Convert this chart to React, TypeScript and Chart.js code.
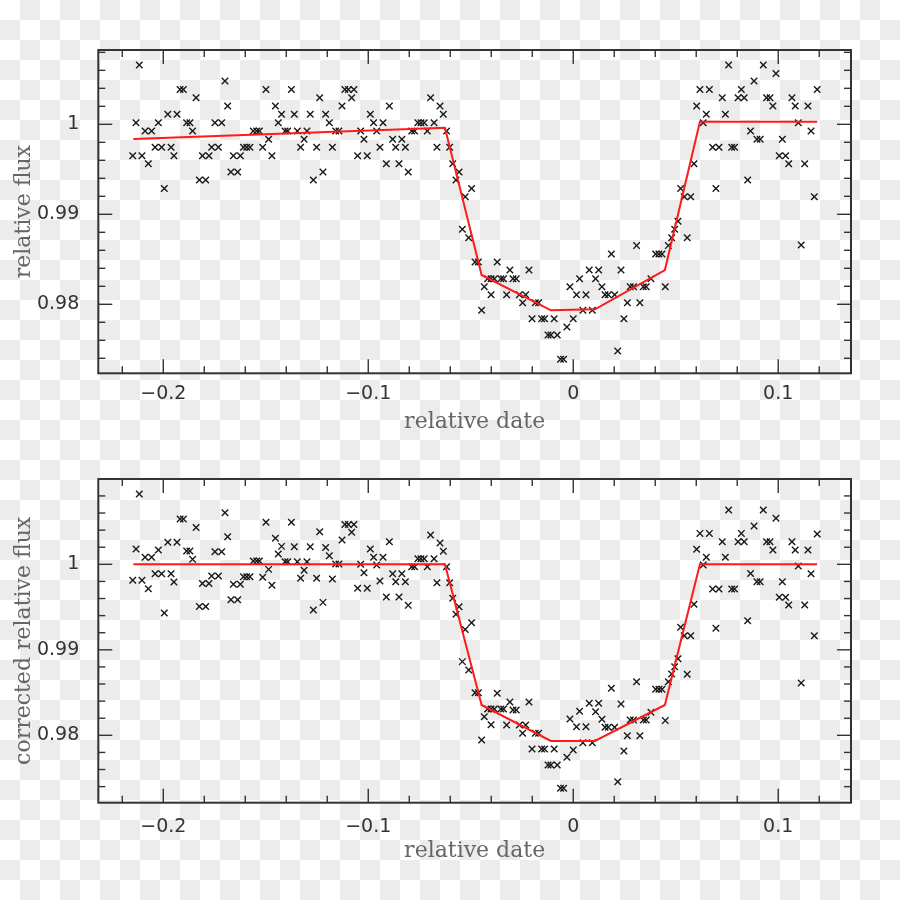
import React, { useEffect, useRef } from 'react';
import { Chart, registerables } from 'chart.js';

Chart.register(...registerables);

// ---------- data ----------
const dates = [
  -0.2149, -0.2133, -0.2117, -0.2104, -0.2089, -0.2073, -0.2057, -0.2040, -0.2024, -0.2008,
  -0.1995, -0.1978, -0.1962, -0.1948, -0.1933, -0.1918, -0.1902, -0.1886, -0.1870, -0.1857,
  -0.1840, -0.1824, -0.1809, -0.1793, -0.1777, -0.1764, -0.1748, -0.1731, -0.1715, -0.1699,
  -0.1686, -0.1670, -0.1658, -0.1637, -0.1624, -0.1609, -0.1593, -0.1577, -0.1561, -0.1544,
  -0.1531, -0.1515, -0.1499, -0.1486, -0.1470, -0.1453, -0.1439, -0.1423, -0.1406, -0.1393,
  -0.1375, -0.1361, -0.1346, -0.1330, -0.1313, -0.1299, -0.1283, -0.1268, -0.1252, -0.1237,
  -0.1221, -0.1208, -0.1190, -0.1175, -0.1159, -0.1143, -0.1128, -0.1114, -0.1097, -0.1081,
  -0.1070, -0.1052, -0.1037, -0.1021, -0.1005, -0.0990, -0.0974, -0.0959, -0.0943, -0.0928,
  -0.0912, -0.0897, -0.0881, -0.0866, -0.0850, -0.0836, -0.0819, -0.0805, -0.0788, -0.0774,
  -0.0758, -0.0743, -0.0727, -0.0712, -0.0696, -0.0679, -0.0665, -0.0650, -0.0634, -0.0618,
  -0.0603, -0.0588, -0.0572, -0.0557, -0.0541, -0.0527, -0.0510, -0.0496, -0.0479, -0.0463,
  -0.0447, -0.0434, -0.0418, -0.0401, -0.0401, -0.0385, -0.0371, -0.0353, -0.0340, -0.0325,
  -0.0309, -0.0294, -0.0278, -0.0263, -0.0247, -0.0232, -0.0216, -0.0201, -0.0185, -0.0169,
  -0.0154, -0.0140, -0.0123, -0.0109, -0.0093, -0.0078, -0.0062, -0.0047, -0.0031, -0.0016,
  0.0000, 0.0016, 0.0031, 0.0047, 0.0062, 0.0078, 0.0093, 0.0109, 0.0124, 0.0140,
  0.0155, 0.0171, 0.0186, 0.0202, 0.0217, 0.0233, 0.0247, 0.0264, 0.0278, 0.0294,
  0.0309, 0.0325, 0.0342, 0.0356, 0.0379, 0.0402, 0.0418, 0.0433, 0.0449, 0.0464,
  0.0480, 0.0495, 0.0511, 0.0524, 0.0542, 0.0556, 0.0573, 0.0589, 0.0602, 0.0618,
  0.0634, 0.0649, 0.0664, 0.0680, 0.0696, 0.0711, 0.0727, 0.0742, 0.0758, 0.0773,
  0.0787, 0.0804, 0.0820, 0.0834, 0.0851, 0.0865, 0.0882, 0.0896, 0.0912, 0.0927,
  0.0943, 0.0960, 0.0974, 0.0989, 0.1005, 0.1020, 0.1036, 0.1051, 0.1067, 0.1083,
  0.1098, 0.1112, 0.1129, 0.1145, 0.1160, 0.1176, 0.1190,
];

const rawFlux = [
  0.99651, 1.00018, 1.00659, 0.99651, 0.99925, 0.99562, 0.99925, 0.99744, 1.00018, 0.99744,
  0.99288, 1.00111, 0.99744, 0.99651, 1.00111, 1.00388, 1.00388, 1.00018, 1.00018, 0.99925,
  1.00296, 0.99381, 0.99651, 0.99381, 0.99651, 0.99744, 1.00018, 0.99744, 1.00018, 1.00481,
  1.00203, 0.99470, 0.99651, 0.99470, 0.99651, 0.99744, 0.99744, 0.99744, 0.99925, 0.99925,
  0.99925, 0.99744, 1.00388, 0.99833, 0.99651, 1.00203, 1.00018, 1.00111, 0.99925, 0.99925,
  1.00388, 1.00111, 0.99925, 0.99744, 0.99833, 0.99925, 1.00111, 0.99381, 0.99744, 1.00296,
  0.99470, 1.00111, 1.00018, 0.99744, 0.99925, 0.99925, 1.00203, 1.00388, 1.00388, 1.00296,
  1.00388, 0.99651, 0.99925, 0.99833, 0.99651, 1.00111, 1.00018, 0.99925, 0.99744, 1.00018,
  0.99562, 1.00203, 0.99833, 0.99744, 0.99562, 0.99833, 0.99744, 0.99470, 0.99925, 0.99925,
  1.00018, 1.00018, 1.00018, 0.99925, 1.00296, 1.00018, 0.99744, 1.00203, 1.00111, 0.99925,
  0.99744, 0.99562, 0.99381, 0.99470, 0.98833, 0.99196, 0.98740, 0.99288, 0.98470, 0.98470,
  0.97933, 0.98196, 0.98285, 0.98285, 0.98107, 0.98285, 0.98470, 0.98285, 0.98285, 0.98107,
  0.98381, 0.98285, 0.98285, 0.98107, 0.98018, 0.98107, 0.98381, 0.97840, 0.98018, 0.98018,
  0.97840, 0.97840, 0.97659, 0.97659, 0.97840, 0.97659, 0.97389, 0.97389, 0.97748, 0.98196,
  0.97840, 0.98107, 0.98285, 0.97933, 0.98107, 0.98381, 0.97933, 0.98285, 0.98381, 0.98196,
  0.98107, 0.98107, 0.98559, 0.98107, 0.97481, 0.98381, 0.97840, 0.98018, 0.98196, 0.98196,
  0.98652, 0.98018, 0.98196, 0.98196, 0.98285, 0.98559, 0.98559, 0.98559, 0.98196, 0.98652,
  0.98740, 0.98833, 0.98922, 0.99288, 0.99196, 0.98740, 0.99196, 0.99562, 1.00203, 1.00388,
  1.00018, 1.00111, 1.00388, 0.99744, 0.99288, 0.99744, 1.00296, 1.00111, 1.00659, 0.99744,
  0.99744, 1.00296, 1.00388, 1.00296, 0.99381, 0.99925, 1.00481, 0.99833, 0.99833, 1.00659,
  1.00296, 1.00296, 1.00203, 1.00566, 0.99651, 0.99833, 0.99651, 0.99562, 1.00296, 1.00203,
  1.00018, 0.98659, 0.99562, 1.00203, 0.99925, 0.99196, 1.00388,
];

const correctedFlux = [
  0.99813, 1.00179, 1.00822, 0.99813, 1.00082, 0.99715, 1.00082, 0.99891, 1.00167, 0.99891,
  0.99431, 1.00257, 0.99891, 0.99793, 1.00257, 1.00530, 1.00530, 1.00156, 1.00156, 1.00058,
  1.00432, 0.99508, 0.99777, 0.99508, 0.99777, 0.99863, 1.00148, 0.99863, 1.00148, 1.00604,
  1.00323, 0.99587, 0.99766, 0.99587, 0.99766, 0.99855, 0.99855, 0.99855, 1.00039, 1.00039,
  1.00039, 0.99848, 1.00491, 0.99941, 0.99754, 1.00304, 1.00121, 1.00210, 1.00031, 1.00031,
  1.00491, 1.00206, 1.00031, 0.99836, 0.99930, 1.00031, 1.00206, 0.99466, 0.99836, 1.00382,
  0.99555, 1.00198, 1.00101, 0.99828, 1.00004, 1.00004, 1.00284, 1.00467, 1.00467, 1.00374,
  1.00467, 0.99719, 1.00000, 0.99902, 0.99719, 1.00179, 1.00082, 0.99992, 0.99805, 1.00082,
  0.99618, 1.00265, 0.99891, 0.99797, 0.99618, 0.99891, 0.99797, 0.99520, 0.99972, 0.99972,
  1.00066, 1.00066, 1.00066, 0.99972, 1.00343, 1.00066, 0.99785, 1.00249, 1.00152, 0.99972,
  0.99785, 0.99602, 0.99415, 0.99505, 0.98862, 0.99239, 0.98764, 0.99317, 0.98499, 0.98499,
  0.97945, 0.98218, 0.98308, 0.98308, 0.98125, 0.98308, 0.98491, 0.98308, 0.98308, 0.98121,
  0.98390, 0.98296, 0.98296, 0.98121, 0.98023, 0.98121, 0.98390, 0.97840, 0.98023, 0.98023,
  0.97840, 0.97840, 0.97653, 0.97653, 0.97840, 0.97653, 0.97380, 0.97380, 0.97743, 0.98191,
  0.97829, 0.98101, 0.98281, 0.97914, 0.98101, 0.98374, 0.97914, 0.98277, 0.98374, 0.98187,
  0.98094, 0.98094, 0.98550, 0.98094, 0.97458, 0.98366, 0.97817, 0.97996, 0.98179, 0.98179,
  0.98628, 0.97996, 0.98179, 0.98179, 0.98269, 0.98538, 0.98538, 0.98538, 0.98172, 0.98628,
  0.98717, 0.98803, 0.98897, 0.99263, 0.99165, 0.98713, 0.99165, 0.99532, 1.00175, 1.00362,
  0.99992, 1.00082, 1.00362, 0.99711, 0.99251, 0.99711, 1.00265, 1.00082, 1.00635, 0.99711,
  0.99711, 1.00265, 1.00362, 1.00265, 0.99341, 0.99894, 1.00448, 0.99797, 0.99797, 1.00635,
  1.00265, 1.00265, 1.00167, 1.00538, 0.99614, 0.99797, 0.99614, 0.99524, 1.00265, 1.00167,
  0.99980, 0.98612, 0.99524, 1.00167, 0.99891, 0.99165, 1.00354,
];

const modelDates = [-0.2146, -0.0626, -0.0447, -0.0109, 0.0106, 0.0447, 0.0618, 0.119];
const rawModel = [0.99837, 0.99962, 0.98326, 0.97933, 0.97944, 0.98381, 1.00029, 1.00029];
const correctedModel = [1.0, 1.0, 0.98355, 0.97934, 0.97934, 0.98355, 1.0, 1.0];

const xMajorTicks = [-0.2, -0.1, 0, 0.1];
const xTickLabels = ['\u22120.2', '\u22120.1', '0', '0.1'];
const xMinorTicks = [-0.22, -0.18, -0.16, -0.14, -0.12, -0.08, -0.06, -0.04, -0.02, 0.02, 0.04, 0.06, 0.08, 0.12];
const yMajorTicks = [0.98, 0.99, 1];
const yTickLabels = ['0.98', '0.99', '1'];
const yMinorTicks = [0.972, 0.974, 0.976, 0.978, 0.982, 0.984, 0.986, 0.988, 0.992, 0.994, 0.996, 0.998, 1.002, 1.004, 1.006, 1.008];

const xTitle = 'relative date';
const topYTitle = 'relative flux';
const bottomYTitle = 'corrected relative flux';

// ---------- chart helpers ----------
const frameTicks = {
  id: 'frameTicks',
  afterDraw(chart: any) {
    const { ctx, chartArea, scales } = chart;
    const { left, right, top, bottom } = chartArea;
    const x = scales.x;
    const y = scales.y;
    ctx.save();
    ctx.strokeStyle = '#333';
    ctx.lineWidth = 1.4;
    const seg = (x1: number, y1: number, x2: number, y2: number) => {
      ctx.beginPath();
      ctx.moveTo(x1, y1);
      ctx.lineTo(x2, y2);
      ctx.stroke();
    };
    const xt = (v: number, len: number) => {
      if (v < x.min || v > x.max) return;
      const px = x.getPixelForValue(v);
      seg(px, bottom, px, bottom - len);
      seg(px, top, px, top + len);
    };
    const yt = (v: number, len: number) => {
      if (v < y.min || v > y.max) return;
      const py = y.getPixelForValue(v);
      seg(left, py, left + len, py);
      seg(right, py, right - len, py);
    };
    xMajorTicks.forEach((v) => xt(v, 14));
    xMinorTicks.forEach((v) => xt(v, 7));
    yMajorTicks.forEach((v) => yt(v, 14));
    yMinorTicks.forEach((v) => yt(v, 7));
    ctx.lineWidth = 2;
    ctx.strokeRect(left, top, right - left, bottom - top);
    ctx.restore();
  },
};

type PanelCfg = {
  offsetTop: number;
  yTitle: string;
  flux: number[];
  model: number[];
  yMin: number;
  yMax: number;
  areaTop: number;
  areaBottom: number;
  xTickPad: number;
  xTitlePad: number;
};

const labelFor = (ticksArr: number[], labels: string[]) => (v: any) => {
  const i = ticksArr.findIndex((t) => Math.abs(t - Number(v)) < 1e-9);
  return i >= 0 ? labels[i] : '';
};

function Panel({ cfg }: { cfg: PanelCfg }) {
  const ref = useRef<HTMLCanvasElement | null>(null);
  useEffect(() => {
    if (!ref.current) return;
    const H = 450;
    const chart = new Chart(ref.current, {
      type: 'scatter',
      data: {
        datasets: [
          {
            type: 'line',
            data: modelDates.map((d, i) => ({ x: d, y: cfg.model[i] })),
            borderColor: '#ff1a1a',
            borderWidth: 2,
            pointRadius: 0,
            tension: 0,
            showLine: true,
            fill: false,
          } as any,
          {
            data: dates.map((d, i) => ({ x: d, y: cfg.flux[i] })),
            pointStyle: 'crossRot',
            pointRadius: 4.6,
            borderColor: '#1a1a1a',
            backgroundColor: '#1a1a1a',
            borderWidth: 1.4,
            showLine: false,
          },
        ],
      },
      options: {
        animation: false,
        responsive: false,
        events: [],
        layout: { padding: { top: cfg.areaTop, right: 49, left: 0, bottom: 0 } },
        plugins: { legend: { display: false }, tooltip: { enabled: false } },
        scales: {
          x: {
            type: 'linear',
            min: -0.2317,
            max: 0.1355,
            grid: { display: false },
            border: { display: false },
            afterBuildTicks: (s: any) => {
              s.ticks = xMajorTicks.map((v) => ({ value: v }));
            },
            afterFit: (s: any) => {
              s.height = H - cfg.areaBottom;
            },
            ticks: {
              padding: cfg.xTickPad,
              autoSkip: false,
              maxRotation: 0,
              color: '#333',
              font: { family: 'DejaVu Sans', size: 19 },
              callback: labelFor(xMajorTicks, xTickLabels),
            },
            title: {
              display: true,
              text: xTitle,
              color: '#666',
              font: { family: 'DejaVu Serif', size: 22 },
              padding: { top: 0, bottom: cfg.xTitlePad },
            },
          },
          y: {
            type: 'linear',
            min: cfg.yMin,
            max: cfg.yMax,
            grid: { display: false },
            border: { display: false },
            afterBuildTicks: (s: any) => {
              s.ticks = yMajorTicks.map((v) => ({ value: v }));
            },
            afterFit: (s: any) => {
              s.width = 98.3;
            },
            ticks: {
              padding: 11,
              autoSkip: false,
              color: '#333',
              font: { family: 'DejaVu Sans', size: 19 },
              callback: labelFor(yMajorTicks, yTickLabels),
            },
            title: {
              display: true,
              text: cfg.yTitle,
              color: '#666',
              font: { family: 'DejaVu Serif', size: 22 },
              padding: { top: 10.8, bottom: 0 },
            },
          },
        },
      },
      plugins: [frameTicks],
    } as any);
    return () => chart.destroy();
  }, [cfg]);
  return (
    <canvas
      ref={ref}
      width={900}
      height={450}
      style={{ position: 'absolute', left: 0, top: cfg.offsetTop, width: 900, height: 450 }}
    />
  );
}

const topCfg: PanelCfg = {
  offsetTop: 0,
  yTitle: topYTitle,
  flux: rawFlux,
  model: rawModel,
  yMin: 0.97233,
  yMax: 1.00826,
  areaTop: 50,
  areaBottom: 373.3,
  xTickPad: 1,
  xTitlePad: 14.8,
};

const bottomCfg: PanelCfg = {
  offsetTop: 450,
  yTitle: bottomYTitle,
  flux: correctedFlux,
  model: correctedModel,
  yMin: 0.97212,
  yMax: 1.00998,
  areaTop: 29,
  areaBottom: 352.7,
  xTickPad: 5,
  xTitlePad: 35.8,
};

export default function App() {
  return (
    <div
      style={{
        position: 'absolute',
        left: 0,
        top: 0,
        width: 900,
        height: 900,
        backgroundColor: '#ffffff',
        backgroundImage: 'repeating-conic-gradient(#ececec 0 25%, #ffffff 0 50%)',
        backgroundSize: '40px 40px',
      }}
    >
      <Panel cfg={topCfg} />
      <Panel cfg={bottomCfg} />
    </div>
  );
}
